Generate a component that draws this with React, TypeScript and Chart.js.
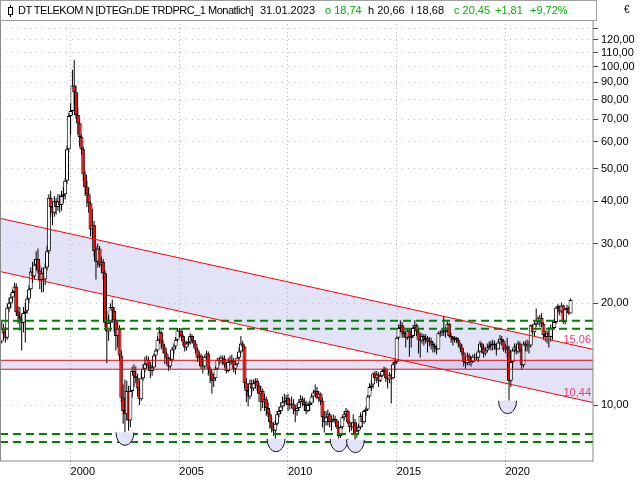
import React, { useEffect, useRef } from "react";
import { Chart, registerables } from "chart.js";

Chart.register(...registerables);

// ---------------- data (monthly candles, Nov 1996 .. Jan 2023) ----------------
const FIRST_YEAR = 1996;
const FIRST_MONTH = 10; // November (0-based)
const firstOpen = 15.4;

const closes = [
  16.8, 16.3,
  15.8, 19.4, 20.0, 20.8, 21.6, 22.4, 18.8, 18.3, 18.0, 17.5, 18.7, 19.0,
  20.6, 22.0, 24.8, 24.0, 26.0, 27.0, 25.0, 23.4, 24.5, 23.5, 25.5, 28.5,
  41.0, 38.5, 37.0, 40.0, 38.5, 40.0, 39.0, 41.5, 42.0, 46.0, 57.0, 71.5,
  74.0, 88.0, 84.0, 72.0, 68.0, 62.0, 57.0, 48.0, 44.0, 42.0, 39.5, 33.0,
  34.0, 28.5, 26.5, 29.0, 26.0, 26.5, 24.5, 17.5, 16.5, 17.5, 19.5, 19.0,
  17.8, 16.0, 16.8, 14.0, 10.5, 9.6, 9.4, 11.0, 9.0, 11.0, 12.6, 12.2,
  12.0, 11.2, 10.4, 12.0, 12.8, 13.2, 13.6, 13.0, 12.6, 12.9, 14.0, 14.5,
  15.6, 16.4, 15.2, 14.8, 14.2, 13.8, 13.0, 13.6, 14.6, 14.9, 15.6, 16.6,
  16.6, 16.0, 15.4, 14.8, 15.2, 15.4, 16.0, 15.6, 15.2, 14.6, 13.8, 14.0,
  13.0, 13.0, 13.9, 14.2, 12.8, 12.4, 11.8, 12.0, 12.8, 13.6, 13.5, 13.8,
  13.7, 13.2, 12.6, 13.4, 13.6, 13.5, 12.8, 13.2, 13.8, 14.4, 15.2, 14.9,
  11.6, 11.0, 10.6, 11.6, 11.2, 11.6, 11.8, 11.4, 10.8, 11.0, 10.2, 10.4,
  9.8, 9.4, 8.9, 8.6, 8.4, 8.8, 9.4, 9.6, 9.9, 10.2, 10.3, 10.5,
  10.0, 10.1, 10.1, 9.7, 9.6, 9.8, 10.2, 10.4, 10.2, 10.0, 9.6, 10.0,
  10.1, 10.6, 10.9, 11.0, 10.5, 10.8, 10.3, 9.2, 8.9, 9.2, 9.4, 8.9,
  9.0, 9.1, 9.0, 8.6, 8.1, 8.6, 9.2, 9.4, 9.6, 8.9, 8.6, 8.6,
  8.9, 8.2, 8.4, 8.6, 9.3, 8.9, 9.6, 9.7, 10.6, 11.3, 11.5, 12.4,
  12.0, 12.3, 11.8, 12.2, 12.6, 12.8, 12.0, 11.9, 12.3, 12.0, 13.2, 13.4,
  15.8, 16.9, 17.2, 16.4, 16.2, 15.8, 16.6, 15.8, 16.0, 16.9, 17.2, 16.5,
  15.6, 15.5, 16.0, 15.6, 15.8, 15.4, 15.5, 15.2, 15.0, 14.8, 14.6, 16.3,
  16.3, 16.6, 16.4, 16.6, 17.4, 16.0, 15.9, 15.6, 15.8, 15.6, 15.2, 14.8,
  14.3, 13.4, 13.3, 14.0, 13.5, 13.4, 13.9, 13.9, 13.8, 14.4, 15.2, 14.8,
  14.2, 14.5, 14.8, 15.0, 15.2, 15.2, 15.0, 14.6, 15.3, 15.7, 15.5, 14.6,
  14.9, 14.6, 11.8, 13.4, 14.5, 14.9, 14.4, 15.2, 14.6, 13.1, 15.2, 14.9,
  14.9, 15.0, 17.2, 16.4, 17.4, 17.8, 17.6, 18.1, 17.4, 16.1, 15.9, 16.3,
  15.9, 16.9, 16.9, 17.6, 19.4, 19.6, 18.9, 19.7, 17.6, 19.2, 19.4, 18.64,
  20.45,
];

const highs = [
  17.6, 17.4,
  17.0, 19.8, 20.8, 21.4, 22.0, 23.0, 22.9, 19.6, 19.5, 18.6, 19.5, 20.0,
  21.0, 22.6, 25.5, 26.5, 27.0, 28.5, 29.0, 26.0, 25.5, 25.5, 26.2, 29.5,
  42.0, 43.0, 40.0, 41.5, 41.0, 42.0, 42.0, 43.0, 44.0, 47.0, 58.5, 73.0,
  78.0, 98.0, 104.8, 88.0, 76.0, 70.0, 63.0, 58.0, 49.0, 46.0, 44.0, 40.0,
  38.0, 35.0, 29.5, 30.0, 29.5, 27.5, 27.0, 25.0, 19.0, 18.5, 20.0, 20.5,
  19.5, 18.0, 17.5, 17.2, 14.5, 11.5, 11.9, 11.8, 11.4, 11.4, 13.0, 13.2,
  13.0, 12.4, 11.8, 12.5, 13.2, 13.9, 14.0, 13.9, 13.4, 13.2, 14.2, 14.7,
  16.0, 17.0, 16.6, 15.6, 15.0, 14.4, 13.9, 13.9, 14.8, 15.2, 15.9, 16.9,
  16.9, 16.9, 16.2, 15.6, 15.4, 15.8, 16.3, 16.2, 15.6, 15.4, 14.8, 14.4,
  14.2, 13.5, 14.0, 14.5, 14.4, 13.0, 12.6, 12.4, 13.0, 13.8, 13.9, 14.0,
  14.0, 14.0, 13.4, 13.8, 14.0, 14.1, 13.8, 13.5, 14.0, 14.8, 16.0, 15.5,
  15.0, 12.0, 11.4, 11.9, 11.9, 11.9, 12.0, 12.0, 11.6, 11.4, 11.2, 10.8,
  10.6, 10.2, 9.6, 9.2, 8.9, 9.0, 9.6, 9.9, 10.2, 10.6, 10.8, 10.7,
  10.8, 10.4, 10.6, 10.4, 10.0, 10.1, 10.4, 10.7, 10.6, 10.5, 10.3, 10.2,
  10.3, 10.8, 11.1, 11.5, 11.3, 11.0, 10.9, 10.5, 9.6, 9.6, 9.7, 9.5,
  9.3, 9.4, 9.3, 9.1, 8.7, 8.7, 9.3, 9.6, 9.8, 9.7, 9.0, 8.9,
  9.4, 9.1, 8.7, 8.8, 9.5, 9.4, 9.7, 9.9, 10.7, 11.6, 11.8, 12.5,
  12.6, 12.6, 12.5, 12.4, 12.8, 13.0, 12.9, 12.2, 12.5, 12.4, 13.4, 13.7,
  15.9, 17.3, 17.8, 17.6, 17.0, 16.6, 16.9, 16.8, 16.6, 17.2, 17.8, 17.4,
  16.8, 16.3, 16.3, 16.2, 16.2, 16.0, 15.9, 15.8, 15.4, 15.2, 15.0, 16.5,
  16.6, 16.9, 18.3, 17.0, 17.6, 17.5, 16.3, 16.0, 16.0, 15.9, 15.8, 15.3,
  15.1, 14.4, 13.8, 14.3, 14.2, 13.9, 14.1, 14.2, 14.2, 14.6, 15.5, 15.3,
  15.0, 14.8, 15.2, 15.4, 15.5, 15.6, 15.5, 15.2, 15.5, 16.1, 16.0, 15.6,
  15.2, 15.8, 15.0, 13.6, 14.7, 15.2, 15.2, 15.5, 15.4, 14.7, 15.4, 15.5,
  15.6, 15.5, 17.3, 17.3, 17.6, 19.3, 18.3, 18.5, 18.7, 17.6, 16.6, 16.6,
  17.0, 17.3, 17.8, 18.0, 19.6, 19.9, 19.7, 20.1, 19.8, 19.3, 19.8, 19.6,
  20.66,
];

const lows = [
  15.2, 15.6,
  15.3, 15.6, 18.8, 19.3, 20.2, 21.0, 18.4, 17.4, 16.6, 14.5, 16.4, 15.3,
  18.6, 20.0, 21.8, 23.0, 23.5, 25.0, 24.5, 22.0, 21.5, 21.6, 22.6, 25.0,
  28.0, 36.0, 34.0, 36.0, 36.5, 37.5, 37.0, 37.5, 39.5, 40.5, 45.0, 56.0,
  63.0, 72.0, 78.0, 70.0, 63.0, 58.0, 55.0, 46.0, 41.5, 38.5, 37.0, 31.5,
  31.0, 27.5, 23.5, 25.5, 25.5, 24.5, 23.5, 17.0, 13.3, 15.5, 16.5, 17.5,
  16.5, 14.5, 14.8, 13.5, 10.2, 8.8, 8.3, 9.0, 8.4, 8.6, 10.5, 11.3,
  11.6, 10.6, 10.0, 10.3, 11.8, 12.5, 12.8, 12.6, 12.0, 12.2, 12.8, 13.6,
  14.3, 15.2, 14.6, 14.2, 13.2, 13.2, 12.6, 12.8, 13.4, 14.2, 14.6, 15.4,
  15.8, 15.8, 15.0, 14.4, 14.5, 14.9, 15.1, 15.2, 14.8, 14.2, 13.4, 13.5,
  12.8, 12.4, 12.8, 13.6, 12.2, 11.6, 10.8, 11.3, 11.8, 12.7, 13.1, 13.3,
  13.1, 12.9, 12.4, 12.5, 13.1, 13.2, 12.5, 12.3, 13.0, 13.6, 14.2, 14.4,
  11.2, 10.2, 9.9, 10.4, 10.9, 11.0, 11.2, 11.0, 10.2, 9.6, 9.8, 9.6,
  9.3, 9.2, 8.5, 8.3, 8.1, 7.95, 8.7, 9.2, 9.4, 9.7, 9.9, 10.0,
  9.6, 9.7, 9.8, 9.4, 8.9, 9.3, 9.6, 10.0, 9.9, 9.6, 9.4, 9.5,
  9.6, 10.0, 10.2, 10.7, 10.4, 10.2, 10.0, 8.6, 8.3, 8.7, 8.7, 8.6,
  8.4, 8.9, 8.8, 8.5, 7.95, 8.0, 8.5, 9.0, 9.2, 8.8, 8.3, 8.4,
  8.5, 7.9, 8.0, 8.2, 8.5, 8.6, 8.8, 9.3, 9.6, 10.5, 11.0, 11.2,
  11.8, 11.6, 11.3, 11.7, 12.1, 12.3, 11.7, 11.2, 11.6, 10.1, 11.9, 12.6,
  13.3, 15.6, 16.4, 15.8, 15.8, 14.8, 15.6, 13.9, 14.8, 15.8, 16.6, 16.0,
  14.2, 13.8, 15.2, 15.0, 15.2, 14.3, 14.9, 14.6, 14.3, 14.3, 14.1, 14.6,
  15.9, 16.0, 16.0, 15.8, 16.4, 15.8, 15.3, 15.0, 15.3, 15.3, 14.9, 14.6,
  14.0, 13.0, 12.8, 13.1, 13.1, 13.0, 13.3, 13.6, 13.5, 13.4, 14.3, 14.2,
  13.8, 14.0, 14.3, 14.6, 14.5, 14.5, 14.6, 14.0, 14.6, 15.1, 15.0, 14.4,
  14.2, 13.8, 10.3, 11.3, 12.8, 14.3, 14.1, 14.2, 14.3, 12.7, 12.9, 14.4,
  14.4, 14.2, 14.8, 16.2, 16.0, 17.0, 17.2, 17.0, 17.0, 15.6, 15.4, 15.2,
  14.8, 15.4, 15.6, 16.7, 17.4, 18.6, 18.4, 18.7, 17.4, 17.3, 18.8, 18.5,
  18.68,
];

// header (last candle)
const headerName = "DT TELEKOM N [DTEGn.DE TRDPRC_1 Monatlich]";
const headerDate = "31.01.2023";
const headerOpen = "o 18,74";
const headerHigh = "h 20,66";
const headerLow = "l 18,68";
const headerClose = "c 20,45";
const headerChange = "+1,81";
const headerChangePct = "+9,72%";

// axes
const X_MIN = 1996.7525;
const X_MAX = 2024.03;
const Y_MIN = 6.833;
const Y_MAX = 137.4;
const xTickYears = [2000, 2005, 2010, 2015, 2020];
const yTickValues = [10, 20, 30, 40, 50, 60, 70, 80, 90, 100, 110, 120, 130];
const yUnlabeled = [130];

// drawings
const channelUpper = [
  { x: X_MIN, y: 35.63 },
  { x: X_MAX, y: 14.61 },
];
const channelLower = [
  { x: X_MIN, y: 24.81 },
  { x: X_MAX, y: 10.17 },
];
const channelLabelValues = [15.06, 10.44];
const bandLevels = [13.56, 12.76];
const greenLevels = [17.75, 16.81, 8.21, 7.77];
const bowlDates = [2002.5, 2009.45, 2012.35, 2013.1, 2020.1];
const bowlLows = [8.3, 7.95, 7.95, 7.9, 10.3];

// ---------------- styles ----------------
const FONT = '"Liberation Sans", Arial, sans-serif';
const GREEN_TXT = "#00b400";
const FILL = "rgba(170,170,235,0.33)";

const overlayPlugin = {
  id: "overlay",
  afterDatasetsDraw(chart: any) {
    const { ctx, chartArea } = chart;
    const xs = chart.scales.x;
    const ys = chart.scales.y;
    ctx.save();
    ctx.beginPath();
    ctx.rect(chartArea.left, chartArea.top, chartArea.width, chartArea.height);
    ctx.clip();
    bowlDates.forEach((d, i) => {
      const px = xs.getPixelForValue(d);
      const py = ys.getPixelForValue(bowlLows[i]);
      ctx.beginPath();
      ctx.ellipse(px, py, 9, 13, 0, 0, Math.PI);
      ctx.fillStyle = "#e2e2f8";
      ctx.fill();
      ctx.strokeStyle = "#14142e";
      ctx.lineWidth = 1;
      ctx.stroke();
    });
    ctx.font = "11px " + FONT;
    ctx.fillStyle = "#ff3366";
    ctx.textAlign = "right";
    ctx.textBaseline = "bottom";
    [channelUpper, channelLower].forEach((line, i) => {
      const end = line[line.length - 1];
      const py = ys.getPixelForValue(end.y);
      ctx.fillText(
        channelLabelValues[i].toFixed(2).replace(".", ","),
        chartArea.right - 2,
        py - 4
      );
    });
    ctx.restore();
    ctx.save();
    ctx.strokeStyle = "#8a8a8a";
    ctx.lineWidth = 1;
    ctx.strokeRect(
      chartArea.left + 0.5,
      chartArea.top + 0.5,
      chartArea.width - 0.5,
      chartArea.height - 0.5
    );
    ctx.restore();
  },
};

export default function App() {
  const ref = useRef<HTMLCanvasElement>(null);

  useEffect(() => {
    const canvas = ref.current;
    if (!canvas) return;
    const dates = closes.map((_, i) => FIRST_YEAR + (FIRST_MONTH + i) / 12);
    const opens = closes.map((_, i) => (i === 0 ? firstOpen : closes[i - 1]));
    const bodies = dates.map((d, i) => ({ x: d, y: [opens[i], closes[i]] }));
    const bodyColors = closes.map((c, i) => (c >= opens[i] ? "#ffffff" : "#ff0000"));
    const wicks = dates.map((d, i) => ({
      x: d,
      y: [
        Math.min(lows[i], opens[i], closes[i]),
        Math.max(highs[i], opens[i], closes[i]),
      ],
    }));
    const flat = (v: number) => [
      { x: X_MIN, y: v },
      { x: X_MAX, y: v },
    ];
    const line = (data: any, color: string, extra: any = {}) => ({
      type: "line",
      data,
      borderColor: color,
      borderWidth: 1,
      pointRadius: 0,
      fill: false,
      order: 0,
      ...extra,
    });

    const datasets: any[] = [
      {
        type: "bar",
        data: bodies,
        backgroundColor: bodyColors,
        borderColor: "#000000",
        borderWidth: 1,
        borderSkipped: false,
        barThickness: 4,
        grouped: false,
        inflateAmount: 0,
        order: 1,
      },
      {
        type: "bar",
        data: wicks,
        backgroundColor: "#000000",
        borderWidth: 0,
        barThickness: 1,
        grouped: false,
        inflateAmount: 0,
        order: 2,
      },
      line(channelUpper, "#ff0000"),
      line(channelLower, "#ff0000", { fill: "-1", backgroundColor: FILL }),
      line(flat(bandLevels[0]), "#ff0000"),
      line(flat(bandLevels[1]), "#ff0000", { fill: "-1", backgroundColor: FILL }),
      ...greenLevels.map((v) =>
        line(flat(v), "#008000", { borderWidth: 2, borderDash: [8, 5] })
      ),
    ];

    const chart = new Chart(canvas, {
      type: "bar",
      data: { datasets },
      plugins: [overlayPlugin],
      options: {
        responsive: false,
        animation: false,
        devicePixelRatio: 1,
        events: [],
        layout: { padding: { top: 20, left: 0, right: 0, bottom: 0 } },
        plugins: {
          legend: { display: false },
          tooltip: { enabled: false },
          filler: { drawTime: "beforeDatasetsDraw" },
        },
        scales: {
          x: {
            type: "linear",
            position: "bottom",
            min: X_MIN,
            max: X_MAX,
            offset: false,
            afterBuildTicks: (s: any) => {
              s.ticks = xTickYears.map((v) => ({ value: v }));
            },
            afterFit: (s: any) => {
              s.height = 19;
            },
            ticks: {
              align: "start",
              padding: -10,
              autoSkip: false,
              maxRotation: 0,
              color: "#000000",
              font: { family: FONT, size: 11 },
              callback: (v: any) => String(v),
            },
            grid: {
              offset: false,
              color: "#b8b8b8",
              drawTicks: true,
              tickLength: 14,
              tickColor: "#a8a8a8",
              tickBorderDash: [1, 2],
            },
            border: { display: false, dash: [1, 3] },
          },
          y: {
            type: "logarithmic",
            position: "right",
            min: Y_MIN,
            max: Y_MAX,
            afterBuildTicks: (s: any) => {
              s.ticks = yTickValues.map((v) => ({ value: v }));
            },
            afterFit: (s: any) => {
              s.width = 47;
            },
            ticks: {
              padding: 3,
              color: "#000000",
              font: { family: FONT, size: 11 },
              callback: (v: any) =>
                yUnlabeled.includes(Number(v))
                  ? ""
                  : Number(v).toFixed(2).replace(".", ","),
            },
            grid: {
              color: "#c0c0c0",
              drawTicks: true,
              tickLength: 5,
              tickColor: "#404040",
              tickBorderDash: [],
            },
            border: { display: false, dash: [1, 5] },
          },
        },
      } as any,
    } as any);
    return () => chart.destroy();
  }, []);

  const chunk = (left: number, text: string, color = "#000000", extra: any = {}) => (
    <span
      style={{
        position: "absolute",
        left,
        top: 3,
        color,
        whiteSpace: "nowrap",
        lineHeight: "13px",
        ...extra,
      }}
    >
      {text}
    </span>
  );

  return (
    <div
      style={{
        position: "fixed",
        left: 0,
        top: 0,
        width: 640,
        height: 480,
        background: "#ffffff",
        overflow: "hidden",
        fontFamily: FONT,
        fontSize: 11,
      }}
    >
      <canvas
        ref={ref}
        width={640}
        height={480}
        style={{ position: "absolute", left: 0, top: 0, width: 640, height: 480 }}
      />
      <div
        style={{
          position: "absolute",
          left: 0,
          top: 0,
          width: 597,
          height: 21,
          boxSizing: "border-box",
          border: "1px solid #a0a0a0",
          background: "#ffffff",
        }}
      >
        <span
          style={{
            position: "absolute",
            left: 9,
            top: 4,
            width: 1,
            height: 12,
            background: "#000",
          }}
        />
        <span
          style={{
            position: "absolute",
            left: 7,
            top: 6,
            width: 3,
            height: 6,
            border: "1px solid #000",
            background: "#fff",
          }}
        />
        {chunk(17, headerName, "#000000", { letterSpacing: "-0.5px" })}
        {chunk(259, headerDate)}
        {chunk(324, headerOpen, GREEN_TXT)}
        {chunk(367, headerHigh)}
        {chunk(410, headerLow)}
        {chunk(453, headerClose, GREEN_TXT)}
        {chunk(494, headerChange, GREEN_TXT)}
        {chunk(529, headerChangePct, GREEN_TXT)}
      </div>
      <span style={{ position: "absolute", left: 624, top: 4, fontSize: 10, color: "#000" }}>
        €
      </span>
    </div>
  );
}
